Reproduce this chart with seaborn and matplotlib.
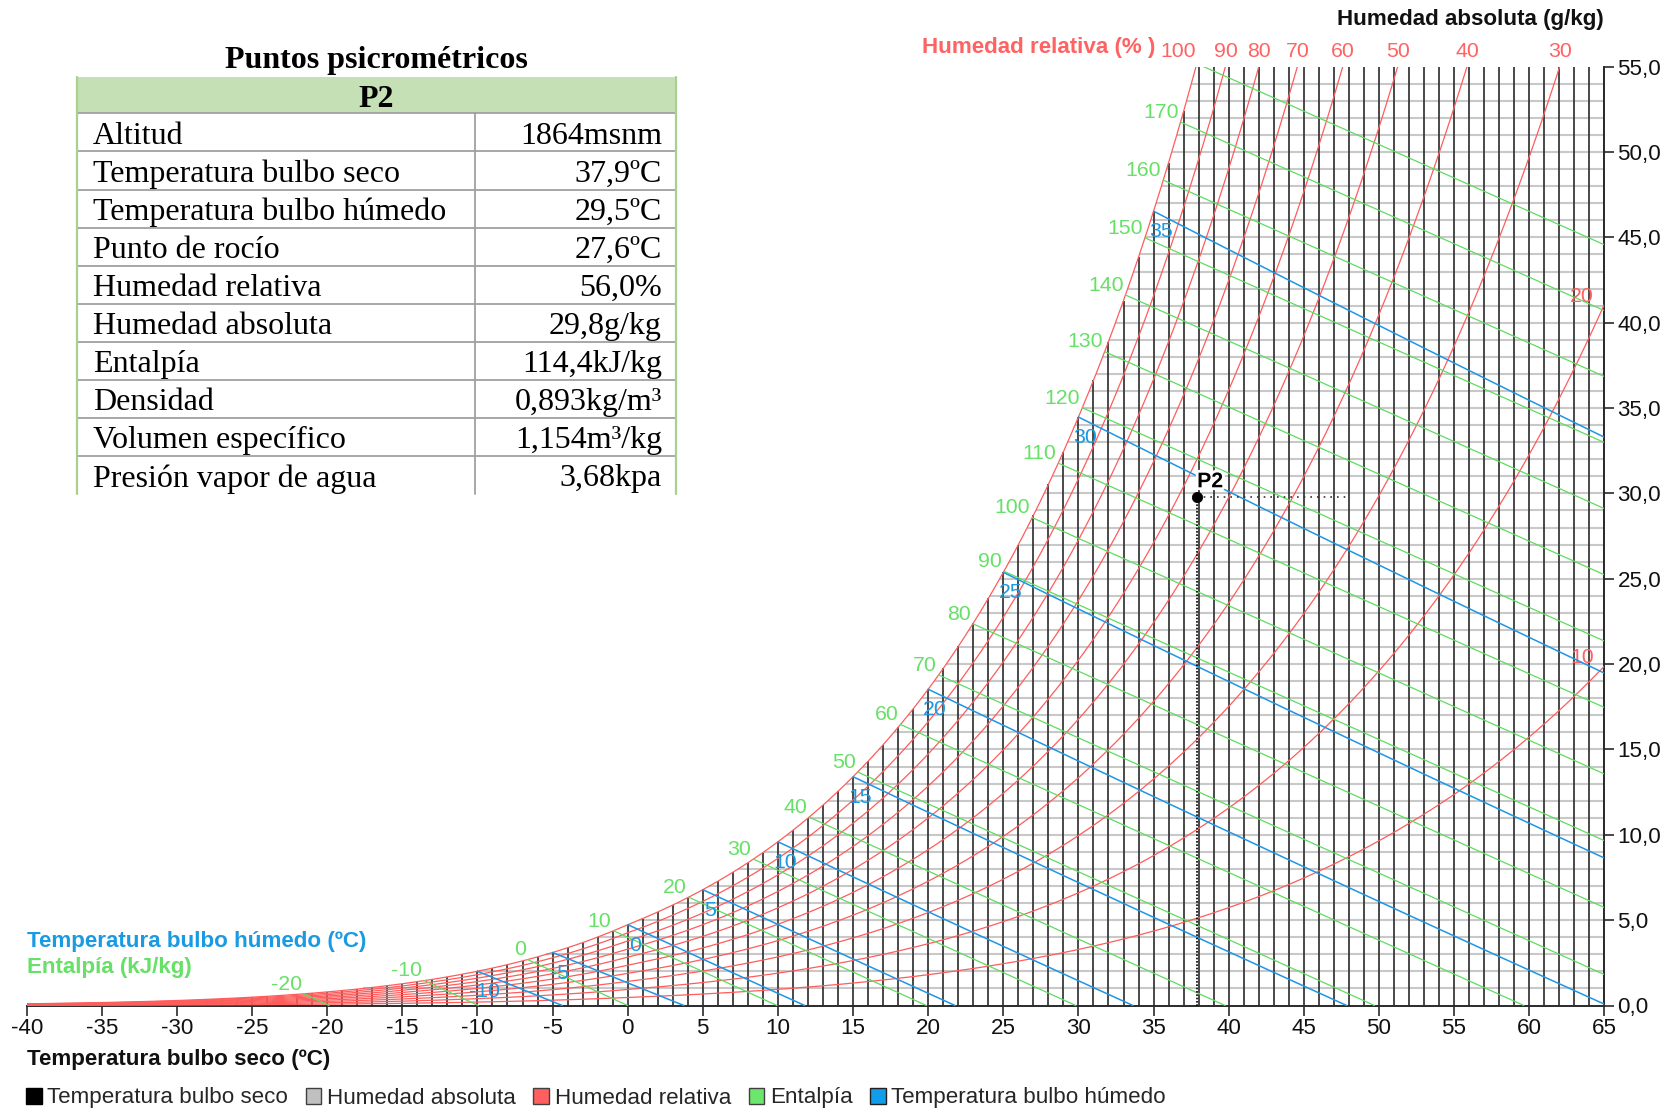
import numpy as np
import pandas as pd
import seaborn as sns
import matplotlib
matplotlib.use("Agg")
import matplotlib.pyplot as plt
from matplotlib import font_manager
from matplotlib.patches import Patch, Rectangle
import matplotlib.patheffects as pe

# ---------------- datos ----------------
altitud_m = 1864
t_min, t_max = -40, 65
w_max = 55
t_ticks = list(range(-40, 66, 5))
w_ticks = list(range(0, 56, 5))
hr_niveles = [10, 20, 30, 40, 50, 60, 70, 80, 90, 100]
hr_etiquetas_sup = [100, 90, 80, 70, 60, 50, 40, 30]
hr_etiquetas_der = [20, 10]
entalpia_niveles = list(range(-20, 181, 10))
entalpia_etiquetas = list(range(-20, 171, 10))
bulbo_humedo_niveles = list(range(-10, 36, 5))

p2_nombre = "P2"
p2_tbs = 37.9
p2_w = 29.8
p2_guia_fin = 48.0

tabla_titulo = "Puntos psicrométricos"
tabla_campos = ["Altitud", "Temperatura bulbo seco", "Temperatura bulbo húmedo",
                "Punto de rocío", "Humedad relativa", "Humedad absoluta",
                "Entalpía", "Densidad", "Volumen específico", "Presión vapor de agua"]
tabla_valores = ["1864msnm", "37,9ºC", "29,5ºC", "27,6ºC", "56,0%", "29,8g/kg",
                 "114,4kJ/kg", "0,893kg/m³", "1,154m³/kg", "3,68kpa"]

leyenda_nombres = ["Temperatura bulbo seco", "Humedad absoluta", "Humedad relativa",
                   "Entalpía", "Temperatura bulbo húmedo"]

# ---------------- estilo ----------------
sns.set_theme(style="white")
_nombres = {f.name for f in font_manager.fontManager.ttflist}
if "Liberation Sans Narrow" in _nombres:
    SANS, K = "Liberation Sans Narrow", 1.0
else:
    SANS, K = "Liberation Sans", 0.85
SERIF = "Liberation Serif"
plt.rcParams["font.family"] = [SANS, "DejaVu Sans"]
plt.rcParams["axes.unicode_minus"] = False

ROJO = "#ff5c5c"
ROJO_TXT = "#ff6262"
VERDE = "#5fdc5f"
VERDE_TXT = "#66e066"
AZUL = "#1e96e6"
AZUL_TXT = "#1a9ae2"
GRIS_H = "#c8c8c8"
NEGRO_V = "#3a3a3a"

FS = 19 * K        # textos generales
FS_LBL = 18 * K    # etiquetas de curvas

# ---------------- psicrometría ----------------
def p_atm(z):
    return 101.325 * (1 - 2.25577e-5 * z) ** 5.2559  # kPa


def p_sat(t):
    t = np.asarray(t, float)
    T = t + 273.15
    hielo = (-5.6745359e3 / T + 6.3925247 - 9.677843e-3 * T + 6.2215701e-7 * T**2
             + 2.0747825e-9 * T**3 - 9.484024e-13 * T**4 + 4.1635019 * np.log(T))
    agua = (-5.8002206e3 / T + 1.3914993 - 4.8640239e-2 * T + 4.1764768e-5 * T**2
            - 1.4452093e-8 * T**3 + 6.5459673 * np.log(T))
    return np.exp(np.where(t < 0, hielo, agua)) / 1000.0  # kPa


P = p_atm(altitud_m)


def w_de_pv(pv):
    return 621.945 * pv / (P - pv)  # g/kg


def w_sat(t):
    return w_de_pv(p_sat(t))


def entalpia(t, w):
    return 1.006 * t + (w / 1000.0) * (2501 + 1.86 * t)


def w_bulbo_humedo(t, twb):
    ws = w_sat(twb) / 1000.0
    if twb >= 0:
        w = ((2501 - 2.326 * twb) * ws - 1.006 * (t - twb)) / (2501 + 1.86 * t - 4.186 * twb)
    else:
        w = ((2830 - 0.24 * twb) * ws - 1.006 * (t - twb)) / (2830 + 1.86 * t - 2.1 * twb)
    return 1000.0 * w


tt = np.linspace(t_min, t_max, 2101)
ws_tt = w_sat(tt)
h_sat_tt = entalpia(tt, ws_tt)

# curvas de humedad relativa
hr_df = pd.concat([
    pd.DataFrame({"T": tt, "W": w_de_pv(hr / 100 * p_sat(tt)), "nivel": hr})
    for hr in hr_niveles
])
hr_df = hr_df[hr_df["W"] <= w_max * 1.05]

# rectas de entalpía: desde la saturación hasta W = 0
ent_filas = []
for h in entalpia_niveles:
    ts = np.interp(h, h_sat_tt, tt)
    t0 = h / 1.006
    ent_filas.append(pd.DataFrame({"T": [ts, t0], "W": [np.interp(ts, tt, ws_tt), 0.0], "nivel": h}))
ent_df = pd.concat(ent_filas)

# líneas de bulbo húmedo
bh_filas = []
for twb in bulbo_humedo_niveles:
    ws = w_sat(twb) / 1000.0
    c = (2501 - 2.326 * twb) if twb >= 0 else (2830 - 0.24 * twb)
    t_fin = twb + c * ws / 1.006
    tl = np.linspace(twb, t_fin, 200)
    bh_filas.append(pd.DataFrame({"T": tl, "W": w_bulbo_humedo(tl, twb), "nivel": twb}))
bh_df = pd.concat(bh_filas)

# ---------------- figura ----------------
W_PX, H_PX = 1677, 1112
fig = plt.figure(figsize=(W_PX / 100, H_PX / 100), dpi=100)


def fx(px):
    return px / W_PX


def fy(py):
    return 1 - py / H_PX


x0, x1, y0, y1 = 26.7, 1604.3, 1005.5, 66.7
ax = fig.add_axes([fx(x0), fy(y0), fx(x1) - fx(x0), fy(y1) - fy(y0)])
ax.set_facecolor("none")

# cuadrícula: humedad absoluta (horizontal) y bulbo seco (vertical)
w_lineas = np.arange(1, w_max)
t_inicio = np.interp(w_lineas, ws_tt, tt)
ax.hlines(w_lineas, t_inicio, t_max, color=GRIS_H, lw=1.5, zorder=1)
t_lineas = np.arange(t_min, t_max + 1)
ax.vlines(t_lineas, 0, np.minimum(w_sat(t_lineas), w_max), color=NEGRO_V, lw=1.3, zorder=2)

sns.lineplot(data=hr_df, x="T", y="W", units="nivel", estimator=None, sort=False,
             color=ROJO, linewidth=0.9, ax=ax, legend=False, zorder=3)
sns.lineplot(data=ent_df, x="T", y="W", units="nivel", estimator=None, sort=False,
             color=VERDE, linewidth=0.9, ax=ax, legend=False, zorder=3)
sns.lineplot(data=bh_df, x="T", y="W", units="nivel", estimator=None, sort=False,
             color=AZUL, linewidth=1.1, ax=ax, legend=False, zorder=4)

ax.set_xlim(t_min, t_max)
ax.set_ylim(0, w_max)
ax.set_xlabel("")
ax.set_ylabel("")

# ejes
for lado in ("left", "top"):
    ax.spines[lado].set_visible(False)
for lado in ("right", "bottom"):
    ax.spines[lado].set_visible(True)
    ax.spines[lado].set_color("#2a2a2a")
    ax.spines[lado].set_linewidth(1.4)
ax.yaxis.tick_right()
ax.set_xticks(t_ticks)
ax.set_xticklabels([str(v) for v in t_ticks])
ax.set_yticks(w_ticks)
ax.set_yticklabels([f"{v:.1f}".replace(".", ",") for v in w_ticks])
ax.tick_params(axis="x", direction="out", length=7, width=1.2, color="#2a2a2a",
               pad=2, labelsize=FS, labelcolor="#111111", bottom=True)
ax.tick_params(axis="y", direction="out", length=7.5, width=1.2, color="#2a2a2a",
               pad=2, labelsize=FS, labelcolor="#111111", right=True, left=False)
ax.grid(False)

# etiquetas de humedad relativa
pv55 = 55 * P / (621.945 + 55)
for hr in hr_etiquetas_sup:
    t55 = np.interp(pv55 / (hr / 100), p_sat(tt), tt)
    ax.annotate(str(hr), xy=(t55, w_max), xytext=(0, 7.2), textcoords="offset points",
                ha="right" if hr == 100 else "center", va="baseline", color=ROJO_TXT,
                fontsize=FS_LBL, annotation_clip=False)
for hr in hr_etiquetas_der:
    w_borde = w_de_pv(hr / 100 * p_sat(t_max))
    ax.annotate(str(hr), xy=(t_max, w_borde), xytext=(-7.5, 2), textcoords="offset points",
                ha="right", va="baseline", color=ROJO_TXT, fontsize=FS_LBL)

# etiquetas de entalpía
for h in entalpia_etiquetas:
    ts = np.interp(h, h_sat_tt, tt)
    ax.annotate(str(h), xy=(ts, np.interp(ts, tt, ws_tt)), xytext=(-1.5, 3),
                textcoords="offset points", ha="right", va="baseline",
                color=VERDE_TXT, fontsize=FS_LBL, zorder=6)

# etiquetas de bulbo húmedo
for twb in bulbo_humedo_niveles:
    ax.annotate(str(twb), xy=(twb, w_sat(twb)), xytext=(5, -8), textcoords="offset points",
                ha="center", va="top", color=AZUL_TXT, fontsize=FS_LBL, zorder=6)

# punto P2
ax.plot([p2_tbs, p2_tbs], [0, p2_w], ls=(0, (1, 1)), color="black", lw=1.2, zorder=5)
ax.plot([p2_tbs, p2_guia_fin], [p2_w, p2_w], ls=(0, (1, 3)), color="#333333", lw=1.2, zorder=5)
sns.scatterplot(x=[p2_tbs], y=[p2_w], color="black", s=55, marker="o", ax=ax,
                zorder=7, legend=False, edgecolor="black")
ax.annotate(p2_nombre, xy=(p2_tbs, p2_w), xytext=(0, 4), textcoords="offset points",
            ha="left", va="bottom", fontsize=18 * K, fontweight="bold", color="black",
            path_effects=[pe.withStroke(linewidth=4, foreground="white")], zorder=8)

# títulos de ejes y series
fig.text(fx(26.7), fy(1059), "Temperatura bulbo seco (ºC)", ha="left", va="center",
         fontsize=FS, fontweight="bold", color="#111111")
fig.text(fx(26.7), fy(942), "Temperatura bulbo húmedo (ºC)", ha="left", va="center",
         fontsize=FS, fontweight="bold", color=AZUL_TXT)
fig.text(fx(26.7), fy(968), "Entalpía (kJ/kg)", ha="left", va="center",
         fontsize=FS, fontweight="bold", color=VERDE_TXT)
fig.text(fx(1604), fy(19.3), "Humedad absoluta (g/kg)", ha="right", va="center",
         fontsize=FS, fontweight="bold", color="#111111")
fig.text(fx(1155), fy(48), "Humedad relativa (% )", ha="right", va="center",
         fontsize=FS, fontweight="bold", color=ROJO_TXT)

# leyenda
colores_ley = ["#000000", "#c0c0c0", "#ff5f5f", "#6ce66c", "#129de8"]
bordes_ley = ["#000000", "#404040", "#404040", "#404040", "#202020"]
handles = [Patch(facecolor=c, edgecolor=b, linewidth=1.0, label=n)
           for c, b, n in zip(colores_ley, bordes_ley, leyenda_nombres)]
fig.legend(handles=handles, loc="center left", bbox_to_anchor=(fx(26), fy(1098)),
           ncol=5, frameon=False, fontsize=FS, handlelength=0.7, handleheight=0.7,
           handletextpad=0.25, columnspacing=0.78, borderpad=0, borderaxespad=0)

# tabla de puntos psicrométricos
tab = fig.add_axes([0, 0, 1, 1])
tab.set_xlim(0, W_PX)
tab.set_ylim(H_PX, 0)
tab.axis("off")
tx0, tx1, tcol = 77, 676, 475
ty_cab0, ty_cab1 = 77, 113.4
fila_h = 38.06
baja = 4  # descenso del texto respecto al centro de la celda
ty_fin = ty_cab1 + fila_h * len(tabla_campos)
tab.text((tx0 + tx1) / 2, 56.7 + baja, tabla_titulo, family=SERIF, fontsize=23,
         fontweight="bold", ha="center", va="center", color="black")
tab.add_patch(Rectangle((tx0, ty_cab0), tx1 - tx0, ty_cab1 - ty_cab0, facecolor="#c5e0b4",
                        edgecolor="none"))
tab.text((tx0 + tx1) / 2, (ty_cab0 + ty_cab1) / 2 + baja, p2_nombre, family=SERIF, fontsize=23,
         fontweight="bold", ha="center", va="center", color="black")
for i, (campo, valor) in enumerate(zip(tabla_campos, tabla_valores)):
    yt = ty_cab1 + i * fila_h
    tab.plot([tx0, tx1], [yt, yt], color="#a0a0a0", lw=1.3)
    yc = yt + fila_h / 2 + baja
    tab.text(93, yc, campo, family=SERIF, fontsize=23, ha="left", va="center", color="black")
    tab.text(662, yc, valor, family=SERIF, fontsize=23, ha="right", va="center", color="black")
tab.plot([tcol, tcol], [ty_cab1, ty_fin], color="#a0a0a0", lw=1.3)
tab.plot([tx0, tx0], [ty_cab0, ty_fin], color="#a9d08e", lw=1.6)
tab.plot([tx1, tx1], [ty_cab0, ty_fin], color="#a9d08e", lw=1.6)

fig.savefig("out.png", dpi=100)
